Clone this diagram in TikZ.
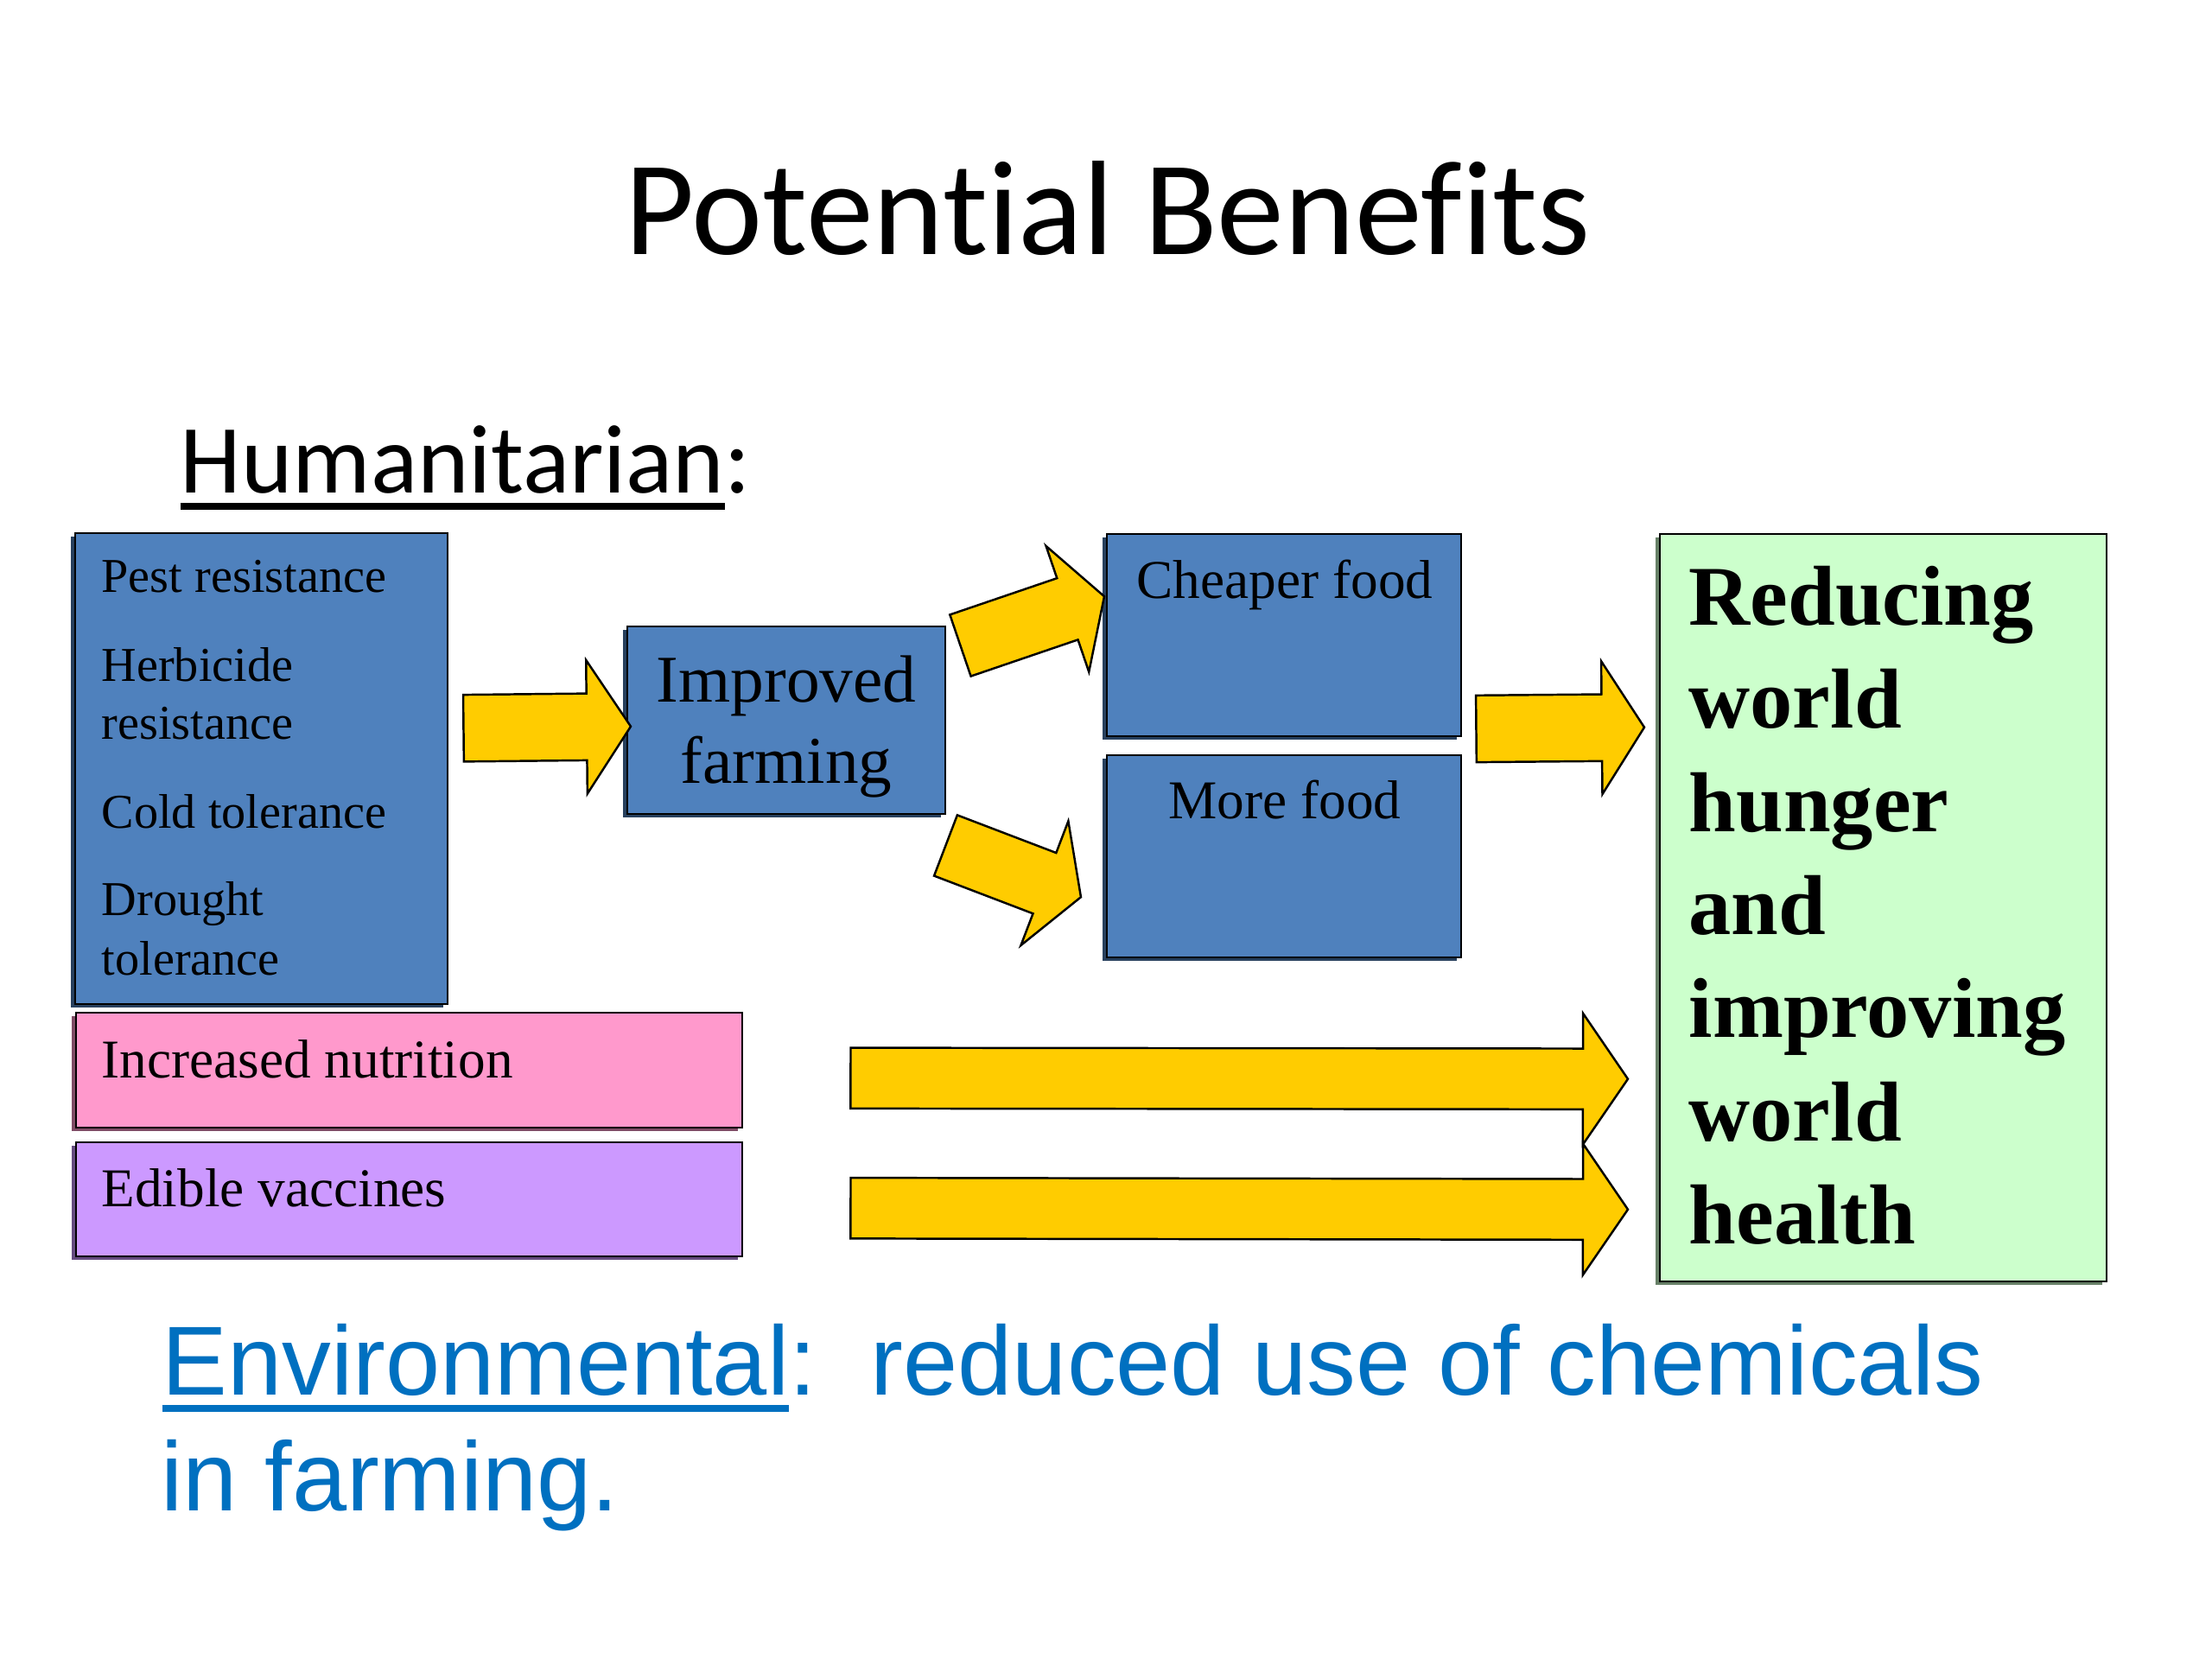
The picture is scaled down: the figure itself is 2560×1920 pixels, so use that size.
\documentclass[tikz,border=0pt]{standalone}
\usepackage{fontspec}
\setmainfont{Liberation Serif}
\newfontfamily\calibri[Ligatures=NoCommon]{Carlito}
\newfontfamily\arialf{Liberation Sans}
\usetikzlibrary{calc,shadows}
\definecolor{boxblue}{HTML}{4F81BD}
\definecolor{boxpink}{HTML}{FF99CC}
\definecolor{boxpurple}{HTML}{CC99FF}
\definecolor{boxgreen}{HTML}{CCFFCC}
\definecolor{arrowyellow}{HTML}{FFCC00}
\definecolor{envblue}{HTML}{0070C0}
\newsavebox\ulbox
\newcommand\myuline[3]{\sbox\ulbox{#3}\rlap{\rule[-#1]{\wd\ulbox}{#2}}\usebox\ulbox}
\newcommand\fs[2]{\fontsize{#1}{#2}\selectfont}
% block arrow from #1 to #2: shaft half width #3, head half width #4, head length #5 (pt)
\newcommand\blockarrow[5]{%
  \draw[yarrow] let \p1=(#1), \p2=(#2), \n1={atan2(\y2-\y1,\x2-\x1)}, \n2={veclen(\x2-\x1,\y2-\y1)} in
    [shift={(\p1)}, rotate=\n1]
    (0pt,{-#3*1pt}) -- ({(\n2-#5)*1pt},{-#3*1pt}) -- ({(\n2-#5)*1pt},{-#4*1pt})
    -- ({\n2*1pt},0pt) -- ({(\n2-#5)*1pt},{#4*1pt}) -- ({(\n2-#5)*1pt},{#3*1pt})
    -- (0pt,{#3*1pt}) -- cycle;}
\tikzset{
  panelbox/.style={rectangle, draw=black, line width=0.7pt, inner sep=0pt, anchor=north west, fill=#1,
    drop shadow={shadow xshift=-1.5pt, shadow yshift=-1.2pt, opacity=1, fill=#1!50!black}},
  txt/.style={inner sep=0pt, anchor=base west},
  ctxt/.style={inner sep=0pt, anchor=base},
  yarrow/.style={fill=arrowyellow, draw=black, line width=0.7pt, line join=miter},
}
\begin{document}
\begin{tikzpicture}[x=0.1mm, y=-0.1mm]
\useasboundingbox (0,0) rectangle (2560,1920);
\fill[white] (0,0) rectangle (2560,1920);

% titles
\node[ctxt, font=\calibri\fs{44.3pt}{53pt}] (title) at (1282,294) {Potential Benefits};
\node[txt, font=\calibri\fs{32.2pt}{38pt}] (human) at (208,570) {\myuline{5.7pt}{2.2pt}{Humanitarian}:};

% boxes
\node[panelbox=boxblue, minimum width=43.1mm, minimum height=54.5mm] (traits) at (86,616) {};
\node[panelbox=boxblue, minimum width=36.8mm, minimum height=21.7mm] (impr) at (725,724) {};
\node[panelbox=boxblue, minimum width=41mm, minimum height=23.4mm] (cheap) at (1280,617) {};
\node[panelbox=boxblue, minimum width=41mm, minimum height=23.4mm] (more) at (1280,873) {};
\node[panelbox=boxgreen, minimum width=51.7mm, minimum height=86.5mm] (goal) at (1920,617) {};
\node[panelbox=boxpink, minimum width=77.1mm, minimum height=13.3mm] (nutr) at (87,1171) {};
\node[panelbox=boxpurple, minimum width=77.1mm, minimum height=13.2mm] (vacc) at (87,1321) {};

% box texts
\begin{scope}[font=\fs{16pt}{19pt}]
\node[txt] (t1) at (117,685) {Pest resistance};
\node[txt] (t2a) at (117,788) {Herbicide};
\node[txt] (t2b) at (117,855) {resistance};
\node[txt] (t3) at (117,958) {Cold tolerance};
\node[txt] (t4a) at (117,1059) {Drought};
\node[txt] (t4b) at (117,1128) {tolerance};
\end{scope}
\node[ctxt, font=\fs{22pt}{26pt}] (impra) at (910,812) {Improved};
\node[ctxt, font=\fs{22pt}{26pt}] (imprb) at (910,906) {farming};
\node[ctxt, font=\fs{18pt}{22pt}] (cheapt) at (1487,692) {Cheaper food};
\node[ctxt, font=\fs{18pt}{22pt}] (moret) at (1487,947) {More food};
\node[txt, font=\fs{18pt}{22pt}] (nutrt) at (117,1247) {Increased nutrition};
\node[txt, font=\fs{18pt}{22pt}] (vacct) at (117,1396) {Edible vaccines};
\begin{scope}[font=\bfseries\fs{28pt}{34pt}]
\node[txt] (g1) at (1954,723) {Reducing};
\node[txt] (g2) at (1954,842) {world};
\node[txt] (g3) at (1954,962) {hunger};
\node[txt] (g4) at (1954,1081) {and};
\node[txt] (g5) at (1954,1200) {improving};
\node[txt] (g6) at (1954,1320) {world};
\node[txt] (g7) at (1954,1439) {health};
\end{scope}

% environmental
\node[txt, font=\arialf\fs{32.3pt}{38pt}, text=envblue] (env1) at (187,1614)
  {\myuline{5.65pt}{2.1pt}{Environmental}:\ \ reduced use of chemicals};
\node[txt, font=\arialf\fs{32.3pt}{38pt}, text=envblue] (env2) at (186,1748) {in farming.};

% arrow end points
\coordinate (a1s) at ($(traits.east)+(17,-47)$);
\coordinate (a1e) at ($(impr.west)+(5,7)$);
\coordinate (a2s) at ($(impr.north east)+(16,23)$);
\coordinate (a2e) at ($(cheap.west)+(-2,-45)$);
\coordinate (a3s) at ($(impr.south east)+(-1,35)$);
\coordinate (a3e) at ($(more.west)+(-29,47)$);
\coordinate (a6s) at ($(cheap.south east)+(16,-10)$);
\coordinate (a6e) at ($(goal.west)+(-17,-209)$);
\coordinate (a4s) at ($(nutr.east)+(124,9)$);
\coordinate (a4e) at ($(goal.west)+(-36,198)$);
\coordinate (a5s) at ($(vacc.east)+(124,10)$);
\coordinate (a5e) at ($(goal.west)+(-36,349)$);

\blockarrow{a1s}{a1e}{11}{22}{14.5}
\blockarrow{a2s}{a2e}{10.7}{21.9}{12.8}
\blockarrow{a3s}{a3e}{10.7}{21.9}{12.8}
\blockarrow{a6s}{a6e}{11}{21.9}{14}
\blockarrow{a4s}{a4e}{10}{21.6}{14.8}
\blockarrow{a5s}{a5e}{10}{21.6}{14.8}
\end{tikzpicture}
\end{document}
